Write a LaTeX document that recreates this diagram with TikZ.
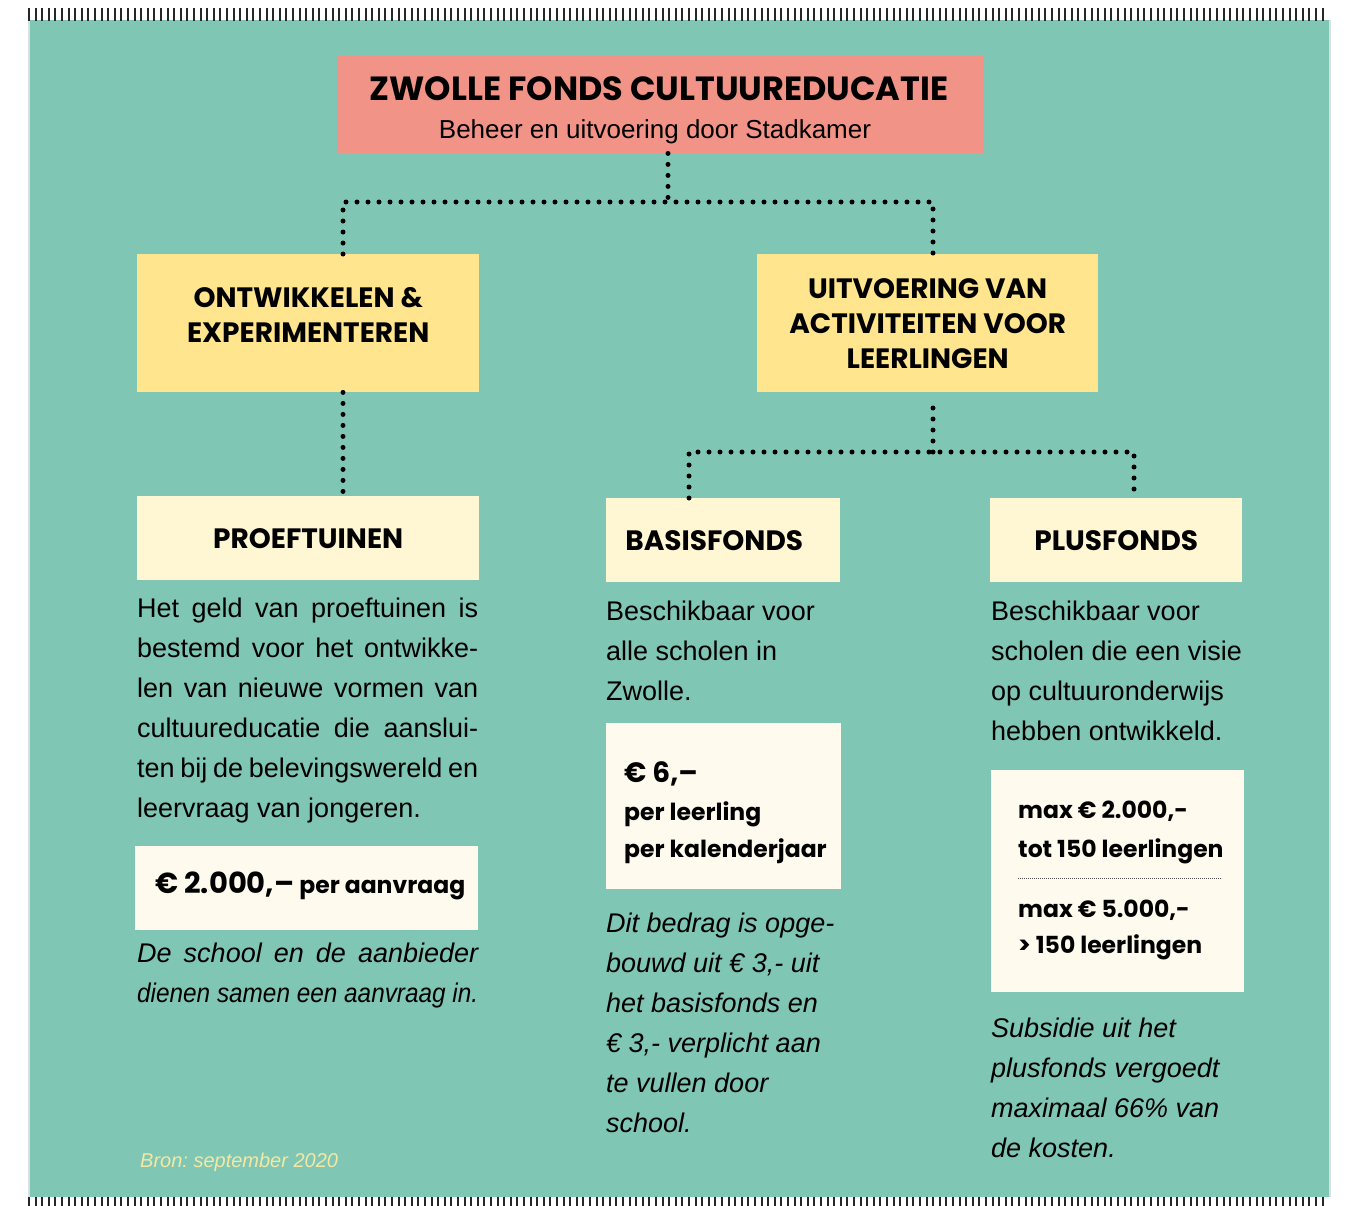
\documentclass[tikz,border=0pt]{standalone}
\usepackage{fontspec}
\setmainfont{Liberation Sans}
\newfontfamily\headfont{Poppins}
\frenchspacing
\definecolor{bgteal}{RGB}{127,198,180}
\definecolor{salmon}{RGB}{241,147,134}
\definecolor{sunyellow}{RGB}{255,229,142}
\definecolor{cream}{RGB}{255,246,212}
\definecolor{paper}{RGB}{255,250,238}
\definecolor{bronyellow}{RGB}{245,232,165}
\definecolor{edge}{RGB}{214,226,223}

\begin{document}
\begin{tikzpicture}[x=1pt,y=-1pt,
    box/.style={anchor=north west,inner sep=0pt},
    dots/.style={line width=5pt,line cap=round,dash pattern=on 0pt off 11pt},
    tick/.style={line width=2pt,black!85},
    head/.style={font=\headfont\bfseries\fontsize{28}{35}\selectfont,align=center},
    body/.style={anchor=base west,inner sep=0pt,font=\fontsize{27}{40}\selectfont},
    note/.style={anchor=base west,inner sep=0pt,font=\itshape\fontsize{27}{40}\selectfont},
    price/.style={anchor=base west,inner sep=0pt,font=\headfont\bfseries\fontsize{23.5}{30}\selectfont}]
      \useasboundingbox (0,0) rectangle (1351,1205);
      \fill[edge] (28,20) rectangle (1331,1197);
      \fill[bgteal] (30,20) rectangle (1329,1197);
      \foreach \i in {0,...,196} {
        \draw[tick] (29+6.6*\i,8) -- (29+6.6*\i,21);
        \draw[tick] (29+6.6*\i,1197) -- (29+6.6*\i,1206);
      }
      % boxes
      \node[box,fill=salmon,minimum width=646pt,minimum height=98pt] (title) at (337,55) {};
      \node[anchor=base,font=\headfont\bfseries\fontsize{33.5}{35}\selectfont] (titletext) at (659,100) {ZWOLLE FONDS CULTUUREDUCATIE};
      \node[anchor=base,font=\fontsize{26}{30}\selectfont] (subtitle) at (655,138) {Beheer en uitvoering door Stadkamer};
      \node[box,fill=sunyellow,minimum width=342pt,minimum height=138pt] (ontw) at (137,254) {};
      \node[head,yshift=8pt] (ontwtext) at (ontw.center) {ONTWIKKELEN \&\\EXPERIMENTEREN};
      \node[box,head,fill=sunyellow,minimum width=341pt,minimum height=138pt] (uitv) at (757,254) {UITVOERING VAN\\ACTIVITEITEN VOOR\\LEERLINGEN};
      \node[box,head,fill=cream,minimum width=342pt,minimum height=84pt] (proef) at (137,496) {PROEFTUINEN};
      \node[box,fill=cream,minimum width=234pt,minimum height=84pt] (basis) at (606,498) {};
      \node[head,xshift=-9pt] (basistext) at (basis.center) {BASISFONDS};
      \node[box,head,fill=cream,minimum width=252pt,minimum height=84pt] (plus) at (990,498) {PLUSFONDS};
      % connectors
      \coordinate (top) at (668,202);
      \coordinate (topl) at (343,202);
      \coordinate (topr) at (933,202);
      \coordinate (mid) at (933,452);
      \coordinate (midl) at (689,452);
      \coordinate (midr) at (1134,452);
      \draw[dots] (top |- title.south) -- (top);
      \draw[dots] (topl |- ontw.north) -- (topl) -- (topr) -- (topr |- uitv.north);
      \draw[dots] (topl |- ontw.south) -- (topl |- proef.north);
      \draw[dots,shorten >=12pt] (mid) -- (mid |- uitv.south);
      \draw[dots] (midl |- basis.north) -- (midl) -- (midr) -- (midr |- plus.north);
      % left column
      \foreach \t [count=\i from 0] in {Het geld van proeftuinen is,bestemd voor het ontwikke-,len van nieuwe vormen van,cultuureducatie die aanslui-,ten bij de belevingswereld en}
        \node[body] (proefp\i) at (137,617+40*\i) {\makebox[341pt][s]{\t}};
      \node[body] (proefp5) at (137,817) {leervraag van jongeren.};
      \node[box,fill=paper,minimum width=343pt,minimum height=84pt] (prijs1) at (135,846) {};
      \node[price] (prijs1t) at (155,893) {{\fontsize{29}{30}\selectfont € 2.000,–} per aanvraag};
      \node[note] (proefn0) at (137,962) {\makebox[341pt][s]{De school en de aanbieder}};
      \node[note] (proefn1) at (137,1002) {\resizebox{341pt}{\height}{dienen samen een aanvraag in.}};
      \node[note,font=\itshape\fontsize{20}{20}\selectfont,text=bronyellow] (bron) at (140,1167) {Bron: september 2020};
      % middle column
      \foreach \t [count=\i from 0] in {Beschikbaar voor,alle scholen in,Zwolle.}
        \node[body] (basisp\i) at (606,620+40*\i) {\t};
      \node[box,fill=paper,minimum width=235pt,minimum height=166pt] (prijs2) at (606,723) {};
      \node[price,font=\headfont\bfseries\fontsize{28}{30}\selectfont] (prijs2a) at (624,782) {€ 6,–};
      \node[price] (prijs2b) at (624,820) {per leerling};
      \node[price] (prijs2c) at (624,857) {per kalenderjaar};
      \foreach \t [count=\i from 0] in {Dit bedrag is opge-,{bouwd uit € 3,- uit},het basisfonds en,{€ 3,- verplicht aan},te vullen door,school.}
        \node[note] (basisn\i) at (606,932+40*\i) {\t};
      % right column
      \foreach \t [count=\i from 0] in {Beschikbaar voor,scholen die een visie,op cultuuronderwijs,hebben ontwikkeld.}
        \node[body] (plusp\i) at (991,620+40*\i) {\t};
      \node[box,fill=paper,minimum width=253pt,minimum height=222pt] (prijs3) at (991,770) {};
      \node[price] (prijs3a) at (1018,818) {max € 2.000,-};
      \node[price] (prijs3b) at (1018,857) {tot 150 leerlingen};
      \draw[line width=0.8pt,black!70,dash pattern=on 0.8pt off 1.2pt] (1018,878) -- (1222,878);
      \node[price] (prijs3c) at (1018,917) {max € 5.000,-};
      \node[price] (prijs3d) at (1018,953) {> 150 leerlingen};
      \foreach \t [count=\i from 0] in {Subsidie uit het,plusfonds vergoedt,maximaal 66\% van,de kosten.}
        \node[note] (plusn\i) at (991,1037+40*\i) {\t};
    \end{tikzpicture}
\end{document}
